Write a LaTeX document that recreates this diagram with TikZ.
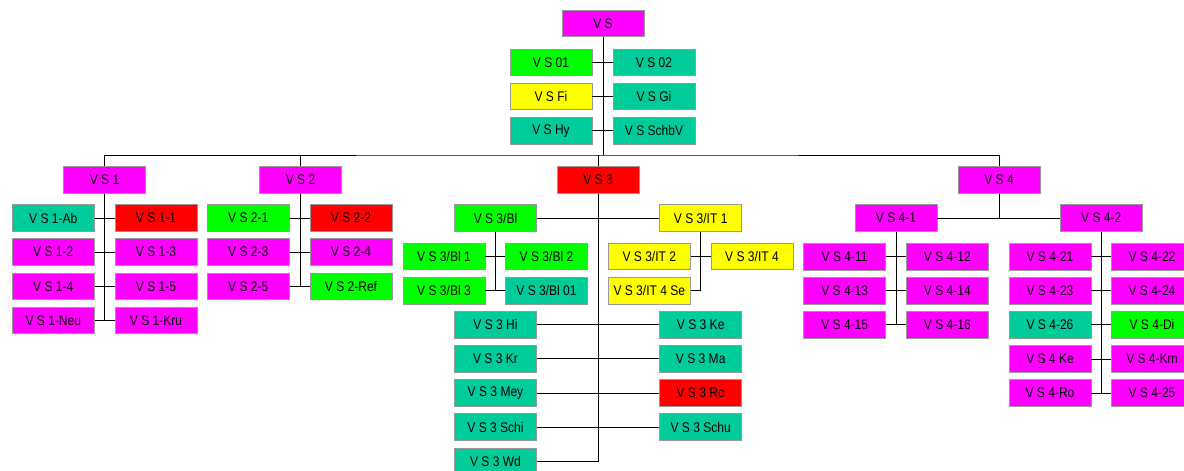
\documentclass[tikz,border=0pt]{standalone}
\usepackage{fontspec}
\usepackage{tikz}
\newfontfamily\orgfont[FakeStretch=0.86]{Liberation Sans}
\definecolor{vsmag}{HTML}{FF00FF}
\definecolor{vsgreen}{HTML}{00FF00}
\definecolor{vsred}{HTML}{FF0000}
\definecolor{vsyellow}{HTML}{FFFF00}
\definecolor{vsteal}{HTML}{00CC99}
\definecolor{boxgray}{HTML}{999999}
\begin{document}
\begin{tikzpicture}[x=1pt,y=-1pt]
\tikzset{orgbox/.style={draw=boxgray,
    line width=0.9pt,
    fill=#1,
    minimum width=82pt,
    minimum height=26.5pt,
    inner sep=0pt,
    font=\orgfont\fontsize{14}{16}\selectfont
  },
  link/.style={draw=black, line width=1pt}
}
\useasboundingbox (0,0) rectangle (1184,471);

% top
\node[orgbox=vsmag] (vs) at (603,23.5) {V S};
\foreach \l/\lc/\r/\rc [count=\i] in {V S 01/vsgreen/V S 02/vsteal,
  V S Fi/vsyellow/V S Gi/vsteal, V S Hy/vsteal/V S SchbV/vsteal}{
  \node[orgbox=\lc] (vs-l\i) at (551,{62.5+34.1*(\i-1)}) {\l};
  \node[orgbox=\rc] (vs-r\i) at (654,{62.5+34.1*(\i-1)}) {\r};
  \draw[link] (vs-l\i) -- (vs-r\i);
}
\coordinate (bar) at (603,155);
\draw[link] (vs) -- (bar);

% second level
\node[orgbox=vsmag] (vs1) at (104.5,180) {V S 1};
\node[orgbox=vsmag] (vs2) at (300.5,180) {V S 2};
\node[orgbox=vsred] (vs3) at (598,180) {V S 3};
\node[orgbox=vsmag] (vs4) at (999,180) {V S 4};
\draw[link] (vs1) |- (bar) -| (vs4);
\draw[link] (vs2) -- (vs2 |- bar);
\draw[link] (vs3) -- (vs3 |- bar);

% V S 1
\foreach \l/\lc/\r/\rc [count=\i] in {V S 1-Ab/vsteal/V S 1-1/vsred,
  V S 1-2/vsmag/V S 1-3/vsmag, V S 1-4/vsmag/V S 1-5/vsmag,
  V S 1-Neu/vsmag/V S 1-Kru/vsmag}{
  \node[orgbox=\lc] (vs1-l\i) at (53.3,{218+34.1*(\i-1)}) {\l};
  \node[orgbox=\rc] (vs1-r\i) at (156,{218+34.1*(\i-1)}) {\r};
  \draw[link] (vs1-l\i) -- (vs1-r\i);
}
\draw[link] (vs1) -- (vs1 |- vs1-l4);

% V S 2
\foreach \l/\lc/\r/\rc [count=\i] in {V S 2-1/vsgreen/V S 2-2/vsred,
  V S 2-3/vsmag/V S 2-4/vsmag, V S 2-5/vsmag/V S 2-Ref/vsgreen}{
  \node[orgbox=\lc] (vs2-l\i) at (248.3,{218+34.1*(\i-1)}) {\l};
  \node[orgbox=\rc] (vs2-r\i) at (351,{218+34.1*(\i-1)}) {\r};
  \draw[link] (vs2-l\i) -- (vs2-r\i);
}
\draw[link] (vs2) -- (vs2 |- vs2-l3);

% V S 3
\node[orgbox=vsgreen] (bl) at (495.5,218) {V S 3/Bl};
\node[orgbox=vsyellow] (it1) at (700.7,218) {V S 3/IT 1};
\draw[link] (bl) -- (it1);
\foreach \l/\lc/\r/\rc [count=\i] in {{V S 3/Bl 1}/vsgreen/{V S 3/Bl 2}/vsgreen,
  {V S 3/Bl 3}/vsgreen/{V S 3/Bl 01}/vsteal}{
  \node[orgbox=\lc] (bl-l\i) at (444,{256.5+34.2*(\i-1)}) {\l};
  \node[orgbox=\rc] (bl-r\i) at (546.5,{256.5+34.2*(\i-1)}) {\r};
  \draw[link] (bl-l\i) -- (bl-r\i);
}
\draw[link] (bl) -- (bl |- bl-l2);
\node[orgbox=vsyellow] (it2) at (649.3,256.5) {V S 3/IT 2};
\node[orgbox=vsyellow] (it4) at (752,256.5) {V S 3/IT 4};
\node[orgbox=vsyellow] (it4se) at (649.3,290.7) {V S 3/IT 4 Se};
\draw[link] (it2) -- (it4);
\draw[link] (it1) |- (it4se);
\foreach \l/\lc/\r/\rc [count=\i] in {V S 3 Hi/vsteal/V S 3 Ke/vsteal,
  V S 3 Kr/vsteal/V S 3 Ma/vsteal, V S 3 Mey/vsteal/V S 3 Ro/vsred,
  V S 3 Schi/vsteal/V S 3 Schu/vsteal}{
  \node[orgbox=\lc] (vs3-l\i) at (495.5,{324.7+34.15*(\i-1)}) {\l};
  \node[orgbox=\rc] (vs3-r\i) at (700.7,{324.7+34.15*(\i-1)}) {\r};
  \draw[link] (vs3-l\i) -- (vs3-r\i);
}
\node[orgbox=vsteal] (wd) at (495.5,461.3) {V S 3 Wd};
\draw[link] (vs3) |- (wd);

% V S 4
\node[orgbox=vsmag] (vs41) at (896,218) {V S 4-1};
\node[orgbox=vsmag] (vs42) at (1101.3,218) {V S 4-2};
\draw[link] (vs41) -- (vs42);
\draw[link] (vs4) -- (vs4 |- vs41);
\foreach \l/\r [count=\i] in {V S 4-11/V S 4-12, V S 4-13/V S 4-14,
  V S 4-15/V S 4-16}{
  \node[orgbox=vsmag] (vs41-l\i) at (844.7,{256.7+34*(\i-1)}) {\l};
  \node[orgbox=vsmag] (vs41-r\i) at (947.3,{256.7+34*(\i-1)}) {\r};
  \draw[link] (vs41-l\i) -- (vs41-r\i);
}
\draw[link] (vs41) -- (vs41 |- vs41-l3);
\foreach \l/\lc/\r/\rc [count=\i] in {V S 4-21/vsmag/V S 4-22/vsmag,
  V S 4-23/vsmag/V S 4-24/vsmag, V S 4-26/vsteal/V S 4-Di/vsgreen,
  V S 4 Ke/vsmag/V S 4-Km/vsmag, V S 4-Ro/vsmag/V S 4-25/vsmag}{
  \node[orgbox=\lc] (vs42-l\i) at (1050,{256.7+34.1*(\i-1)}) {\l};
  \node[orgbox=\rc] (vs42-r\i) at (1152,{256.7+34.1*(\i-1)}) {\r};
  \draw[link] (vs42-l\i) -- (vs42-r\i);
}
\draw[link] (vs42) -- (vs42 |- vs42-l5);
\end{tikzpicture}
\end{document}
